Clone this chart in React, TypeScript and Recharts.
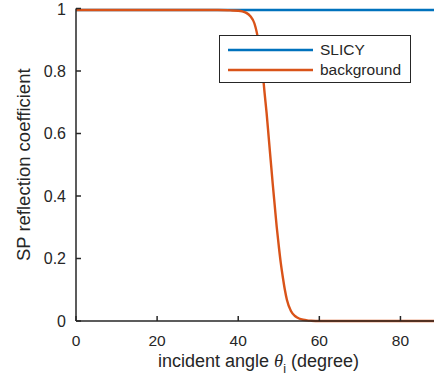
import React from 'react';
import { Legend, Line, LineChart, XAxis, YAxis } from 'recharts';

// incident angle (degree)
const angles = [
  0, 10, 20, 30, 35, 38, 40, 41, 42, 43, 44, 45, 46, 46.5, 47, 47.5, 48, 48.5, 49, 49.5, 50,
  50.5, 51, 51.5, 52, 53, 54, 55, 56, 57, 58, 60, 70, 80, 90,
];
// SP reflection coefficient, SLICY target
const slicy = [
  0.995, 0.995, 0.995, 0.995, 0.995, 0.995, 0.995, 0.995, 0.995, 0.995, 0.995, 0.995, 0.995,
  0.995, 0.995, 0.995, 0.995, 0.995, 0.995, 0.995, 0.995, 0.995, 0.995, 0.995, 0.995, 0.995,
  0.995, 0.995, 0.995, 0.995, 0.995, 0.995, 0.995, 0.995, 0.995,
];
// SP reflection coefficient, background
const background = [
  0.995, 0.995, 0.995, 0.995, 0.995, 0.994, 0.993, 0.991, 0.986, 0.975, 0.952, 0.895, 0.8,
  0.73, 0.665, 0.59, 0.515, 0.44, 0.37, 0.3, 0.24, 0.185, 0.14, 0.1, 0.068, 0.032, 0.016,
  0.008, 0.004, 0.002, 0.001, 0, 0, 0, 0,
];
const xTicks = [0, 20, 40, 60, 80];
const yTicks = [0, 0.2, 0.4, 0.6, 0.8, 1];

const BLUE = '#0072BD';
const ORANGE = '#D95319';
const INK = '#262626';
const FONT = '"Liberation Sans", Arial, sans-serif';

const data = angles.map((a, i) => ({ angle: a, slicy: slicy[i], background: background[i] }));

const fmt = (v: number) => (v === 0 || v === 1 ? String(v) : v.toFixed(1));

function LegendBox() {
  const items = [
    { name: 'SLICY', color: BLUE },
    { name: 'background', color: ORANGE },
  ];
  return (
    <div
      style={{
        position: 'relative',
        width: 190,
        height: 46,
        border: `1px solid ${INK}`,
        background: '#fff',
        fontFamily: FONT,
        fontSize: 15.5,
        color: INK,
      }}
    >
      {items.map((it, i) => (
        <div key={it.name} style={{ position: 'absolute', left: 8, top: 4 + i * 20, height: 20 }}>
          <svg width={86} height={20} style={{ position: 'absolute', left: 0, top: 0 }}>
            <line x1={0} x2={85} y1={10} y2={10} stroke={it.color} strokeWidth={2.4} />
          </svg>
          <span style={{ position: 'absolute', left: 92, top: 1, lineHeight: '17px', whiteSpace: 'nowrap' }}>
            {it.name}
          </span>
        </div>
      ))}
    </div>
  );
}

export default function App() {
  return (
    <div
      style={{
        position: 'absolute',
        left: 0,
        top: 0,
        width: 434,
        height: 384,
        overflow: 'hidden',
        background: '#fff',
      }}
    >
      <LineChart width={441} height={384} data={data} margin={{ top: 8.5, right: 0, bottom: 0, left: 0 }}>
        <XAxis
          dataKey="angle"
          type="number"
          domain={[0, 90]}
          ticks={xTicks}
          height={63}
          stroke={INK}
          strokeWidth={1.5}
          tickSize={-5}
          tickMargin={19}
          tick={{ fill: INK, fontSize: 15.5, fontFamily: FONT }}
          label={(props: any) => {
            const vb = props.viewBox;
            return (
              <text
                x={vb.x + vb.width / 2}
                y={vb.y + 45.5}
                textAnchor="middle"
                fill={INK}
                fontSize={18}
                fontFamily={FONT}
              >
                incident angle{' '}
                <tspan fontFamily='"Liberation Serif", serif' fontStyle="italic" fontSize={18.5}>
                  θ
                </tspan>
                <tspan dy={6} fontSize={12.5}>
                  i
                </tspan>
                <tspan dy={-6}> (degree)</tspan>
              </text>
            );
          }}
        />
        <XAxis
          xAxisId="top"
          orientation="top"
          dataKey="angle"
          type="number"
          domain={[0, 90]}
          ticks={xTicks}
          height={0}
          stroke={INK}
          strokeWidth={1.5}
          tickSize={-5}
          tickFormatter={() => ''}
        />
        <YAxis
          type="number"
          domain={[0, 1]}
          ticks={yTicks}
          width={76}
          stroke={INK}
          strokeWidth={1.5}
          tickSize={-5}
          tickMargin={15}
          tickFormatter={fmt}
          tick={{ fill: INK, fontSize: 16, fontFamily: FONT }}
          label={(props: any) => {
            const vb = props.viewBox;
            const cx = vb.x + 29.5;
            const cy = vb.y + vb.height / 2;
            return (
              <text
                x={cx}
                y={cy}
                transform={`rotate(-90 ${cx} ${cy})`}
                textAnchor="middle"
                fill={INK}
                fontSize={18.5}
                fontFamily={FONT}
              >
                SP reflection coefficient
              </text>
            );
          }}
        />
        <Legend
          layout="vertical"
          align="center"
          verticalAlign="middle"
          wrapperStyle={{ left: 219, top: 35, width: 'auto', height: 'auto' }}
          content={() => <LegendBox />}
        />
        <Line
          dataKey="slicy"
          type="monotone"
          stroke={BLUE}
          strokeWidth={2.4}
          dot={false}
          isAnimationActive={false}
        />
        <Line
          dataKey="background"
          type="monotone"
          stroke={ORANGE}
          strokeWidth={2.4}
          dot={false}
          isAnimationActive={false}
        />
      </LineChart>
    </div>
  );
}
